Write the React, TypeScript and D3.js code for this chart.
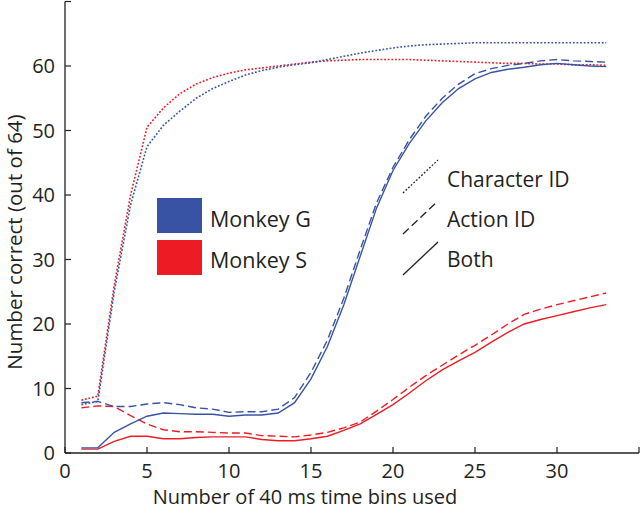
import React from "react";
import * as d3 from "d3";

const bins = d3.range(1, 34);

const gCharacter = [7.5, 8.0, 25, 38.5, 47.5, 50.8, 53, 55, 56.5, 57.6, 58.6, 59.3, 59.8, 60.2, 60.5, 61, 61.5, 62, 62.4, 62.8, 63.1, 63.3, 63.4, 63.5, 63.6, 63.6, 63.6, 63.6, 63.6, 63.6, 63.6, 63.6, 63.6];
const gAction = [7.8, 8.0, 7.2, 7.2, 7.6, 7.8, 7.5, 7.0, 6.8, 6.3, 6.4, 6.4, 6.8, 8.6, 12.5, 17.5, 24, 31.5, 38.8, 44.3, 48.6, 52.2, 55, 57.2, 58.8, 59.6, 60.1, 60.4, 60.8, 61, 60.8, 60.7, 60.6];
const gBoth = [0.8, 0.8, 3.2, 4.5, 5.7, 6.2, 6.1, 6.0, 6.0, 5.7, 5.9, 5.9, 6.2, 7.8, 11.5, 16.5, 23, 30.5, 38, 43.8, 48, 51.5, 54.3, 56.5, 58, 59, 59.5, 59.8, 60.2, 60.4, 60.2, 60.0, 59.9];
const sCharacter = [8.2, 8.8, 26, 40, 50.5, 53.5, 55.7, 57.2, 58.2, 58.9, 59.4, 59.7, 60, 60.3, 60.6, 60.8, 60.9, 61, 61, 61, 61, 60.9, 60.8, 60.7, 60.6, 60.5, 60.4, 60.4, 60.3, 60.3, 60.2, 60.2, 60.1];
const sAction = [7.0, 7.3, 7.2, 5.8, 4.5, 3.6, 3.3, 3.3, 3.2, 3.1, 3.1, 2.7, 2.6, 2.5, 2.8, 3.2, 3.9, 4.8, 6.5, 8.3, 10.2, 12, 13.6, 15.2, 16.7, 18.3, 20, 21.5, 22.3, 23, 23.6, 24.2, 24.8];
const sBoth = [0.6, 0.6, 1.8, 2.6, 2.6, 2.2, 2.2, 2.4, 2.5, 2.5, 2.5, 2.1, 1.9, 1.9, 2.2, 2.6, 3.5, 4.5, 6.0, 7.5, 9.3, 11.2, 12.9, 14.3, 15.6, 17.2, 18.7, 20.0, 20.7, 21.3, 21.9, 22.5, 23.0];

const xTicks = [0, 5, 10, 15, 20, 25, 30, 35];
const yTicks = [0, 10, 20, 30, 40, 50, 60, 70];
const xTickLabels = ["0", "5", "10", "15", "20", "25", "30", ""];
const yTickLabels = ["0", "10", "20", "30", "40", "50", "60", ""];

const monkeys = ["Monkey G", "Monkey S"];
const conditions = ["Character ID", "Action ID", "Both"];

const BLUE = "#3953a4";
const RED = "#ed1c24";
const INK = "#231f20";
const FONT = "'Open Sans', 'Noto Sans', sans-serif";

const dashFor: Record<string, string> = {
  "Character ID": "1.8,1.8",
  "Action ID": "8,4",
  Both: "none",
};

export default function App() {
  const W = 640;
  const H = 516;
  const x = d3.scaleLinear().domain([0, 35]).range([65, 639]);
  const y = d3.scaleLinear().domain([0, 70]).range([453, 1.5]);
  const line = d3
    .line<number>()
    .x((_, i) => x(bins[i]))
    .y((d) => y(d));

  const series = [
    { cond: "Character ID", color: RED, values: sCharacter },
    { cond: "Character ID", color: BLUE, values: gCharacter },
    { cond: "Action ID", color: RED, values: sAction },
    { cond: "Both", color: RED, values: sBoth },
    { cond: "Action ID", color: BLUE, values: gAction },
    { cond: "Both", color: BLUE, values: gBoth },
  ];

  return (
    <svg width={W} height={H} style={{ position: "absolute", left: 0, top: 0, background: "#fff" }}>
      <rect x={0} y={0} width={W} height={H} fill="#fff" />
      {series.map((s, i) => (
        <path
          key={i}
          d={line(s.values) || ""}
          fill="none"
          stroke={s.color}
          strokeWidth={s.cond === "Character ID" ? 1.6 : 1.4}
          strokeDasharray={dashFor[s.cond]}
        />
      ))}
      {/* axes */}
      <line x1={x(0)} x2={x(35)} y1={y(0)} y2={y(0)} stroke={INK} strokeWidth={1.3} />
      <line x1={x(0)} x2={x(0)} y1={y(0)} y2={y(70)} stroke={INK} strokeWidth={1.3} />
      {xTicks.map((t, i) => (
        <g key={"xt" + t}>
          <line x1={x(t)} x2={x(t)} y1={y(0)} y2={y(0) - 6} stroke={INK} strokeWidth={1.2} />
          <text x={x(t)} y={y(0) + 25} textAnchor="middle" fontFamily={FONT} fontSize={20} fill={INK}>
            {xTickLabels[i]}
          </text>
        </g>
      ))}
      {yTicks.map((t, i) => (
        <g key={"yt" + t}>
          <line x1={x(0)} x2={x(0) + 6} y1={y(t)} y2={y(t)} stroke={INK} strokeWidth={1.2} />
          <text x={x(0) - 10} y={y(t) + 7} textAnchor="end" fontFamily={FONT} fontSize={20} fill={INK}>
            {yTickLabels[i]}
          </text>
        </g>
      ))}
      <text x={305} y={504} textAnchor="middle" fontFamily={FONT} fontSize={20} fill={INK}>
        Number of 40 ms time bins used
      </text>
      <text
        transform={`translate(17,242) rotate(-90)`}
        textAnchor="middle"
        dominantBaseline="middle"
        fontFamily={FONT}
        fontSize={20.5}
        fill={INK}
      >
        Number correct (out of 64)
      </text>
      {/* monkey legend */}
      {monkeys.map((m, i) => (
        <g key={m}>
          <rect x={157} y={198 + i * 42} width={45} height={35} fill={i === 0 ? BLUE : RED} />
          <text x={210} y={227 + i * 41} fontFamily={FONT} fontSize={21.5} fill={INK}>
            {m}
          </text>
        </g>
      ))}
      {/* condition legend */}
      {conditions.map((c, i) => (
        <g key={c}>
          <line
            x1={403}
            y1={193 + i * 41}
            x2={438}
            y2={160 + i * 41}
            stroke={INK}
            strokeWidth={1.3}
            strokeDasharray={dashFor[c]}
          />
          <text x={447} y={187 + i * 40} fontFamily={FONT} fontSize={21} fill={INK}>
            {c}
          </text>
        </g>
      ))}
    </svg>
  );
}
